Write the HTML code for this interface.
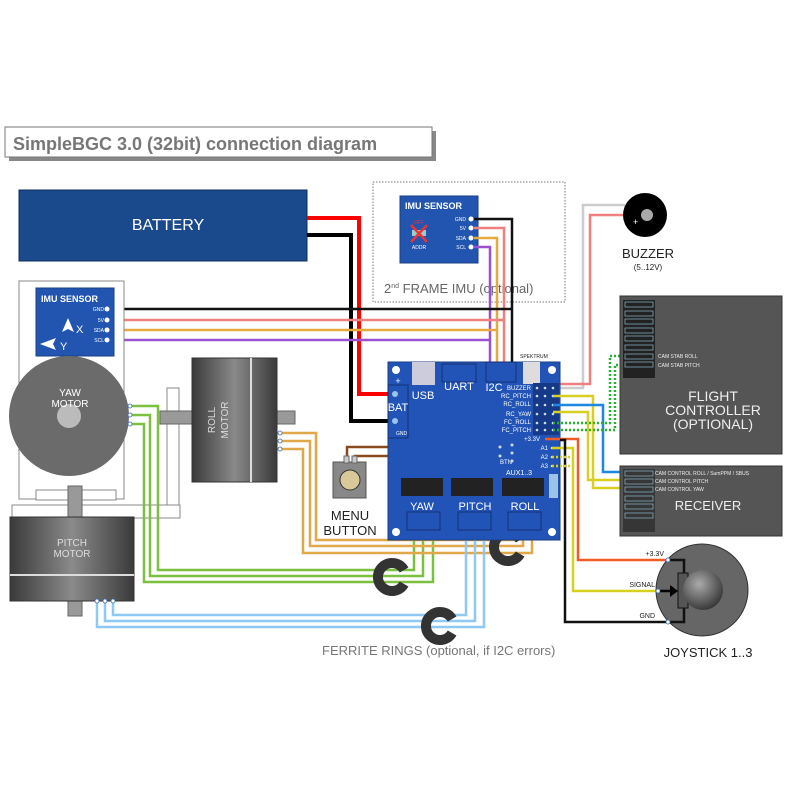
<!DOCTYPE html>
<html><head><meta charset="utf-8"><style>
body{margin:0;background:#fff}
svg{display:block;font-family:"Liberation Sans",sans-serif}
</style></head><body>
<svg width="800" height="800" viewBox="0 0 800 800" xmlns="http://www.w3.org/2000/svg">
<defs>
<linearGradient id="mg" x1="0" x2="1" y1="0" y2="0">
<stop offset="0" stop-color="#3a3a3a"/><stop offset="0.5" stop-color="#8a8a8a"/><stop offset="1" stop-color="#3a3a3a"/>
</linearGradient>
<radialGradient id="ball" cx="0.4" cy="0.35" r="0.7"><stop offset="0" stop-color="#aaa"/><stop offset="1" stop-color="#333"/></radialGradient>
</defs>
<rect width="800" height="800" fill="#fff"/>
<!-- title -->
<rect x="9" y="131" width="427" height="30" fill="#888"/>
<rect x="5" y="127" width="427" height="30" fill="#fff" stroke="#777" stroke-width="1"/>
<text x="13" y="150" font-size="18" font-weight="bold" fill="#777">SimpleBGC 3.0 (32bit) connection diagram</text>
<!-- battery -->
<rect x="19" y="190" width="288" height="71" fill="#1b4a8c" stroke="#0e2e5c"/>
<text x="168" y="230" font-size="16" fill="#fff" text-anchor="middle">BATTERY</text>
<polyline points="307,218 359,218 359,394 395,394" fill="none" stroke="#f00" stroke-width="4"/>
<polyline points="307,235 351,235 351,421 395,421" fill="none" stroke="#000" stroke-width="4"/>
<!-- 2nd IMU box -->
<rect x="373" y="182" width="192" height="120" fill="none" stroke="#777" stroke-dasharray="1.5,1.5"/>
<rect x="400" y="196" width="78" height="67" fill="#2155b0" stroke="#1a3f85"/>
<text x="405" y="209" font-size="9" font-weight="bold" fill="#fff">IMU SENSOR</text>
<text x="419" y="224" font-size="5" fill="#e33" text-anchor="middle">OFF</text>
<rect x="412" y="230" width="14" height="6" fill="#9cc"/>
<path d="M411,225 L427,242 M427,225 L411,242" stroke="#e33" stroke-width="2.5"/>
<text x="419" y="249" font-size="5" fill="#fff" text-anchor="middle">ADDR</text>
<g font-size="5" fill="#fff" text-anchor="end"><text x="466" y="221">GND</text><text x="466" y="230">5V</text><text x="466" y="240">SDA</text><text x="466" y="249">SCL</text></g>
<g fill="#fff"><circle cx="471" cy="219" r="2.5"/><circle cx="471" cy="228" r="2.5"/><circle cx="471" cy="238" r="2.5"/><circle cx="471" cy="247" r="2.5"/></g>
<text x="384" y="293" font-size="13" fill="#666">2<tspan font-size="7" dy="-5">nd</tspan><tspan dy="5"> FRAME IMU (optional)</tspan></text>
<!-- IMU wires -->
<g fill="none" stroke-width="2.5">
<polyline points="474,219 512,219 512,364" stroke="#111"/>
<polyline points="474,228 504,228 504,364" stroke="#f08080"/>
<polyline points="474,238 497,238 497,364" stroke="#e8a840"/>
<polyline points="474,247 490,247 490,364" stroke="#9a50d0"/>
<polyline points="110,309 512,309" stroke="#111"/>
<polyline points="110,320 504,320" stroke="#f08080"/>
<polyline points="110,330 497,330" stroke="#e8a840"/>
<polyline points="110,340 490,340" stroke="#9a50d0"/>
</g>
<!-- left frame -->
<rect x="19" y="281" width="105" height="218" fill="#fff" stroke="#888"/>
<rect x="36" y="288" width="78" height="68" fill="#2155b0" stroke="#1a3f85"/>
<text x="41" y="302" font-size="9" font-weight="bold" fill="#fff">IMU SENSOR</text>
<g font-size="5" fill="#fff" text-anchor="end"><text x="104" y="311">GND</text><text x="104" y="322">5V</text><text x="104" y="332">SDA</text><text x="104" y="342">SCL</text></g>
<g fill="#fff"><circle cx="107" cy="309" r="2.5"/><circle cx="107" cy="320" r="2.5"/><circle cx="107" cy="330" r="2.5"/><circle cx="107" cy="340" r="2.5"/></g>
<path d="M68,318 L62,332 L68,329 L74,332Z" fill="#fff"/>
<text x="76" y="333" font-size="11" fill="#fff">X</text>
<path d="M40,344 L56,338 L53,344 L56,350Z" fill="#fff"/>
<text x="60" y="350" font-size="11" fill="#fff">Y</text>
<!-- yaw motor -->
<circle cx="69" cy="416" r="60" fill="#6b6b6b"/>
<circle cx="69" cy="416" r="12" fill="#bbb"/>
<text x="70" y="396" font-size="10" fill="#fff" text-anchor="middle">YAW</text>
<text x="70" y="407" font-size="10" fill="#fff" text-anchor="middle">MOTOR</text>
<rect x="36" y="490" width="80" height="10" fill="#fff" stroke="#888"/>
<!-- brackets -->
<rect x="167" y="388" width="12" height="117" fill="#fff" stroke="#888"/>
<rect x="12" y="505" width="168" height="13" fill="#fff" stroke="#888"/>
<rect x="68" y="486" width="14" height="130" fill="#999" stroke="#666"/>
<!-- roll motor -->
<rect x="160" y="411" width="135" height="13" fill="#999" stroke="#666"/>
<rect x="192" y="358" width="85" height="124" fill="url(#mg)" stroke="#333"/>
<line x1="251" y1="358" x2="251" y2="482" stroke="#ddd" stroke-width="2"/>
<text transform="translate(215,420) rotate(-90)" font-size="10" fill="#ddd" text-anchor="middle">ROLL</text>
<text transform="translate(228,420) rotate(-90)" font-size="10" fill="#ddd" text-anchor="middle">MOTOR</text>
<!-- pitch motor -->
<rect x="10" y="517" width="124" height="84" fill="url(#mg)" stroke="#333"/>
<line x1="10" y1="575" x2="134" y2="575" stroke="#ddd" stroke-width="2"/>
<text x="72" y="546" font-size="10" fill="#ddd" text-anchor="middle">PITCH</text>
<text x="72" y="557" font-size="10" fill="#ddd" text-anchor="middle">MOTOR</text>
<!-- motor wires -->
<g fill="none" stroke-width="2.5">
<polyline points="130,406 158,406 158,570 414,570 414,530" stroke="#7cc040"/>
<polyline points="130,415 150,415 150,576 423,576 423,530" stroke="#7cc040"/>
<polyline points="130,424 144,424 144,582 433,582 433,530" stroke="#7cc040"/>
<polyline points="280,433 316,433 316,540 514,540 514,530" stroke="#e0a848"/>
<polyline points="280,441 310,441 310,546 523,546 523,530" stroke="#e0a848"/>
<polyline points="280,449 303,449 303,553 532,553 532,530" stroke="#e0a848"/>
<polyline points="97,601 97,627 484,627 484,530" stroke="#8ec8f4"/>
<polyline points="105,601 105,621 475,621 475,530" stroke="#8ec8f4"/>
<polyline points="113,601 113,615 466,615 466,530" stroke="#8ec8f4"/>
</g>
<!-- ferrite rings -->
<g fill="none" stroke="#333" stroke-width="10">
<path d="M404.1,570 A14,14 0 1,0 404.1,584"/>
<path d="M520.1,540 A14,14 0 1,0 520.1,554"/>
<path d="M452.1,619 A14,14 0 1,0 452.1,633"/>
</g>
<g fill="#fff" stroke="#3a6ab0" stroke-width="0.8">
<circle cx="130" cy="406" r="2"/><circle cx="130" cy="415" r="2"/><circle cx="130" cy="424" r="2"/>
<circle cx="280" cy="433" r="2"/><circle cx="280" cy="441" r="2"/><circle cx="280" cy="449" r="2"/>
<circle cx="97" cy="601" r="2"/><circle cx="105" cy="601" r="2"/><circle cx="113" cy="601" r="2"/>
</g>
<text x="322" y="655" font-size="13" fill="#777">FERRITE RINGS (optional, if I2C errors)</text>
<!-- menu button -->
<polyline points="347,458 347,447 500,447" fill="none" stroke="#8a4a20" stroke-width="2.5"/>
<polyline points="355,458 355,456 500,456" fill="none" stroke="#8a4a20" stroke-width="2.5"/>
<rect x="333" y="462" width="33" height="36" fill="#888" stroke="#555"/>
<circle cx="350" cy="480" r="10" fill="#d8c89a" stroke="#333"/>
<rect x="344" y="456" width="5" height="7" fill="#ccc" stroke="#666"/><rect x="352" y="456" width="5" height="7" fill="#ccc" stroke="#666"/>
<text x="350" y="520" font-size="13" fill="#222" text-anchor="middle">MENU</text>
<text x="350" y="535" font-size="13" fill="#222" text-anchor="middle">BUTTON</text>
<!-- buzzer -->
<polyline points="625,205 583,205 583,388 553,388" fill="none" stroke="#ccc" stroke-width="2.5"/>
<polyline points="625,215 590,215 590,384 540,384" fill="none" stroke="#f08080" stroke-width="2.5"/>
<circle cx="645" cy="215" r="22" fill="#000"/>
<circle cx="647" cy="215" r="6" fill="#aaa"/>
<text x="633" y="225" font-size="9" fill="#fff">+</text>
<text x="648" y="258" font-size="13" fill="#222" text-anchor="middle">BUZZER</text>
<text x="648" y="270" font-size="8" fill="#222" text-anchor="middle">(5..12V)</text>
<!-- board -->
<rect x="388" y="362" width="172" height="178" fill="#2254b8" stroke="#1a3f85"/>
<g fill="#fff"><circle cx="396" cy="370" r="4"/><circle cx="552" cy="370" r="4"/><circle cx="396" cy="532" r="4"/><circle cx="552" cy="532" r="4"/></g>
<rect x="388" y="385" width="20" height="53" fill="#2254b8" stroke="#143070"/>
<text x="398" y="384" font-size="9" fill="#fff" text-anchor="middle">+</text>
<circle cx="395" cy="394" r="3" fill="#9cc3e8"/><circle cx="395" cy="421" r="3" fill="#9cc3e8"/>
<text x="398" y="411" font-size="11" fill="#fff" text-anchor="middle">BAT</text>
<text x="396" y="435" font-size="5" fill="#fff">GND</text>
<rect x="412" y="362" width="23" height="23" fill="#ccd"/>
<text x="423" y="399" font-size="11" fill="#fff" text-anchor="middle">USB</text>
<rect x="442" y="364" width="34" height="18" fill="none" stroke="#143070"/>
<text x="459" y="390" font-size="11" fill="#fff" text-anchor="middle">UART</text>
<rect x="486" y="362" width="30" height="20" fill="none" stroke="#143070"/>
<text x="494" y="391" font-size="11" fill="#fff" text-anchor="middle">I2C</text>
<text x="520" y="358" font-size="5" fill="#222">SPEKTRUM</text>
<rect x="523" y="362" width="17" height="22" fill="#ddd"/>
<g font-size="6" fill="#fff" text-anchor="end">
<text x="531" y="390">BUZZER</text><text x="531" y="398">RC_PITCH</text><text x="531" y="406">RC_ROLL</text><text x="531" y="416">RC_YAW</text><text x="531" y="424">FC_ROLL</text><text x="531" y="432">FC_PITCH</text>
<text x="540" y="441">+3.3V</text><text x="548" y="450">A1</text><text x="548" y="459">A2</text><text x="548" y="468">A3</text>
<text x="512" y="464">BTN</text>
</g>
<rect x="533" y="383" width="26" height="52" fill="#163a88"/>
<g fill="#cde">
<circle cx="537" cy="388" r="1.3"/><circle cx="545" cy="388" r="1.3"/><circle cx="553" cy="388" r="1.3"/>
<circle cx="537" cy="396" r="1.3"/><circle cx="545" cy="396" r="1.3"/><circle cx="553" cy="396" r="1.3"/>
<circle cx="537" cy="405" r="1.3"/><circle cx="545" cy="405" r="1.3"/><circle cx="553" cy="405" r="1.3"/>
<circle cx="537" cy="414" r="1.3"/><circle cx="545" cy="414" r="1.3"/><circle cx="553" cy="414" r="1.3"/>
<circle cx="537" cy="423" r="1.3"/><circle cx="545" cy="423" r="1.3"/><circle cx="553" cy="423" r="1.3"/>
<circle cx="537" cy="430" r="1.3"/><circle cx="545" cy="430" r="1.3"/><circle cx="553" cy="430" r="1.3"/>
<circle cx="552" cy="448" r="1.3"/><circle cx="552" cy="457" r="1.3"/><circle cx="552" cy="466" r="1.3"/>
<circle cx="500" cy="447" r="1.5"/><circle cx="500" cy="456" r="1.5"/><circle cx="512" cy="445" r="1.5"/><circle cx="512" cy="453" r="1.5"/><circle cx="512" cy="461" r="1.5"/>
</g>
<rect x="549" y="474" width="9" height="24" fill="#9cc3e8"/>
<text x="506" y="475" font-size="7" fill="#fff">AUX1..3</text>
<rect x="401" y="478" width="42" height="18" fill="#222"/>
<rect x="451" y="478" width="42" height="18" fill="#222"/>
<rect x="502" y="478" width="42" height="18" fill="#222"/>
<g font-size="11" fill="#fff" text-anchor="middle"><text x="422" y="510">YAW</text><text x="475" y="510">PITCH</text><text x="525" y="510">ROLL</text></g>
<g fill="none" stroke="#143070"><rect x="407" y="512" width="33" height="18"/><rect x="458" y="512" width="33" height="18"/><rect x="508" y="512" width="33" height="18"/></g>
<!-- right wires -->
<g fill="none" stroke-width="2.5">
<polyline points="553,396 593,396 593,488 622,488" stroke="#d8d020"/>
<polyline points="553,405 603,405 603,472 622,472" stroke="#1e88e0"/>
<polyline points="553,412 588,412 588,480 622,480" stroke="#d8d020"/>
<polyline points="553,423 610,423 610,356 622,356" stroke="#2ab030" stroke-dasharray="2,2"/>
<polyline points="553,430 615,430 615,365 622,365" stroke="#2ab030" stroke-dasharray="2,2"/>
<polyline points="545,439 578,439 578,560 668,560" stroke="#f05a28"/>
<polyline points="552,448 573,448 573,591 658,591" stroke="#d8d020"/>
<polyline points="560,440 565,440 565,622 668,622" stroke="#111"/>
<polyline points="552,457 570,457" stroke="#d8d020" stroke-dasharray="2,2"/>
<polyline points="552,466 570,466" stroke="#d8d020" stroke-dasharray="2,2"/>
</g>
<!-- flight controller -->
<rect x="620" y="296" width="162" height="158" fill="#555" stroke="#333"/>
<rect x="623" y="300" width="32" height="78" fill="#222"/>
<g fill="none" stroke="#8bc" stroke-width="0.7">
<rect x="625" y="302" width="28" height="5"/><rect x="625" y="311" width="28" height="5"/><rect x="625" y="319" width="28" height="5"/><rect x="625" y="328" width="28" height="5"/><rect x="625" y="336" width="28" height="5"/><rect x="625" y="345" width="28" height="5"/><rect x="625" y="354" width="28" height="5"/><rect x="625" y="362" width="28" height="5"/>
</g>
<g font-size="5" fill="#eee"><text x="658" y="358">CAM STAB ROLL</text><text x="658" y="367">CAM STAB PITCH</text></g>
<g font-size="14" fill="#eee" text-anchor="middle"><text x="713" y="401">FLIGHT</text><text x="713" y="415">CONTROLLER</text><text x="713" y="429">(OPTIONAL)</text></g>
<!-- receiver -->
<rect x="620" y="466" width="162" height="70" fill="#555" stroke="#333"/>
<rect x="623" y="469" width="32" height="63" fill="#222" opacity="0.6"/>
<g fill="none" stroke="#8bc" stroke-width="0.7">
<rect x="625" y="471" width="28" height="5"/><rect x="625" y="479" width="28" height="5"/><rect x="625" y="487" width="28" height="5"/><rect x="625" y="496" width="28" height="5"/><rect x="625" y="504" width="28" height="5"/><rect x="625" y="513" width="28" height="5"/>
</g>
<g font-size="5" fill="#eee"><text x="655" y="475">CAM CONTROL ROLL / SumPPM / SBUS</text><text x="655" y="483">CAM CONTROL PITCH</text><text x="655" y="491">CAM CONTROL YAW</text></g>
<text x="708" y="510" font-size="13" fill="#eee" text-anchor="middle">RECEIVER</text>
<!-- joystick -->
<circle cx="702" cy="590" r="46" fill="#666" stroke="#333"/>
<polyline points="668,560 684,560 684,622 668,622" fill="none" stroke="#111" stroke-width="2.5"/>
<rect x="678" y="573" width="10" height="35" fill="#555" stroke="#111"/>
<line x1="658" y1="591" x2="672" y2="591" stroke="#000" stroke-width="2.5"/>
<path d="M670,585 L678,591 L670,597Z" fill="#000"/>
<circle cx="703" cy="590" r="20" fill="url(#ball)"/>
<g fill="#fff" stroke="#3a6ab0" stroke-width="0.8"><circle cx="668" cy="560" r="2"/><circle cx="658" cy="591" r="2"/><circle cx="668" cy="622" r="2"/></g>
<g font-size="7" fill="#222" text-anchor="end"><text x="664" y="556">+3.3V</text><text x="655" y="587">SIGNAL</text><text x="655" y="618">GND</text></g>
<text x="708" y="657" font-size="13" fill="#222" text-anchor="middle">JOYSTICK 1..3</text>
</svg>
</body></html>
